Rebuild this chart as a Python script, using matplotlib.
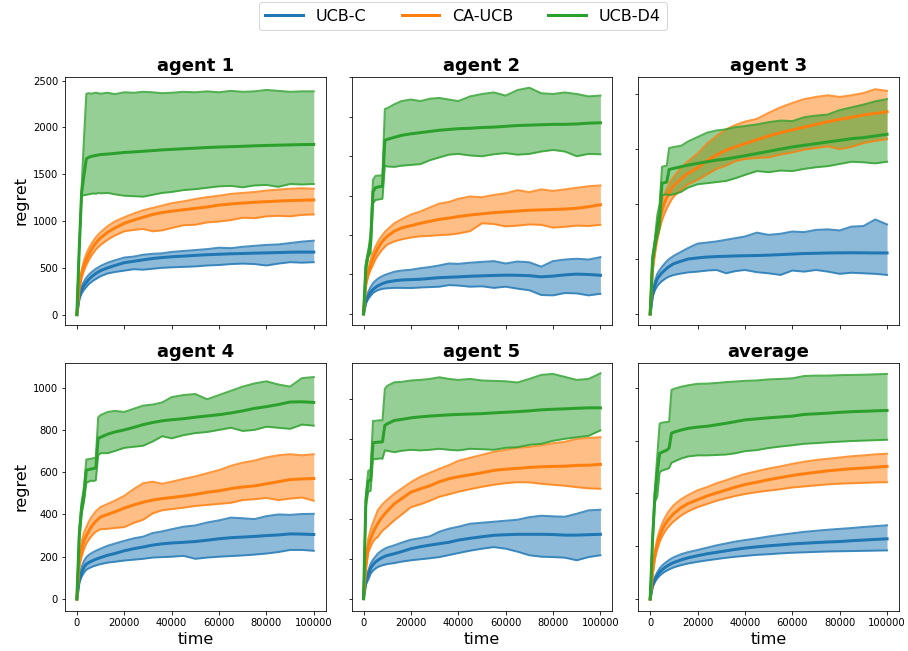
import matplotlib
matplotlib.use("Agg")
import matplotlib.pyplot as plt
import numpy as np

# time axis (steps)
t = [0, 1000, 2000, 3000, 4000, 5000, 6000, 7000, 8000, 9000, 10000, 13000, 16000,
     20000, 24000, 28000, 32000, 36000, 40000, 45000, 50000, 55000, 60000, 65000,
     70000, 75000, 80000, 85000, 90000, 95000, 100000]

algorithms = ["UCB-C", "CA-UCB", "UCB-D4"]
panel_titles = ["agent 1", "agent 2", "agent 3", "agent 4", "agent 5", "average"]

# ---------------- agent 1 ----------------
a1_ucbc_mean = [0, 190, 265, 310, 345, 375, 400, 420, 440, 455, 470, 500, 525, 555, 570, 585, 600, 610, 618, 625, 633, 640, 645, 650, 653, 657, 660, 663, 667, 668, 668]
a1_ucbc_hi = [0, 220, 305, 355, 395, 425, 450, 470, 490, 505, 520, 555, 580, 610, 620, 640, 650, 655, 670, 680, 690, 700, 715, 710, 725, 735, 745, 750, 765, 780, 790]
a1_ucbc_lo = [0, 160, 225, 265, 295, 325, 345, 365, 380, 395, 410, 440, 455, 470, 485, 480, 490, 500, 505, 510, 515, 525, 530, 540, 545, 540, 525, 545, 560, 555, 560]
a1_caucb_mean = [0, 300, 430, 520, 590, 640, 690, 730, 765, 795, 820, 880, 925, 975, 1010, 1040, 1070, 1090, 1105, 1120, 1135, 1150, 1170, 1182, 1192, 1200, 1207, 1213, 1218, 1222, 1225]
a1_caucb_hi = [0, 330, 475, 575, 650, 705, 750, 790, 825, 855, 880, 945, 995, 1040, 1080, 1115, 1140, 1165, 1190, 1210, 1235, 1255, 1270, 1290, 1300, 1310, 1325, 1335, 1345, 1350, 1345]
a1_caucb_lo = [0, 270, 390, 470, 530, 580, 625, 660, 695, 720, 745, 800, 845, 890, 905, 915, 890, 900, 925, 955, 960, 985, 995, 1010, 1035, 1030, 1050, 1055, 1050, 1065, 1070]
a1_d4_mean = [0, 700, 1300, 1490, 1665, 1680, 1690, 1695, 1700, 1705, 1710, 1715, 1722, 1732, 1738, 1745, 1752, 1760, 1765, 1772, 1778, 1785, 1790, 1794, 1798, 1803, 1807, 1810, 1813, 1816, 1818]
a1_d4_hi = [0, 700, 1360, 1880, 2360, 2365, 2360, 2365, 2370, 2365, 2360, 2370, 2355, 2375, 2370, 2380, 2375, 2365, 2370, 2380, 2375, 2385, 2375, 2390, 2380, 2385, 2400, 2390, 2380, 2385, 2385]
a1_d4_lo = [0, 700, 1270, 1275, 1280, 1285, 1290, 1295, 1290, 1300, 1295, 1300, 1285, 1270, 1265, 1260, 1280, 1300, 1310, 1330, 1340, 1355, 1370, 1375, 1360, 1380, 1385, 1365, 1395, 1390, 1395]

# ---------------- agent 2 ----------------
a2_ucbc_mean = [0, 160, 230, 275, 310, 335, 355, 370, 385, 395, 405, 420, 430, 435, 440, 450, 460, 465, 470, 478, 483, 488, 492, 490, 485, 470, 480, 495, 505, 500, 490]
a2_ucbc_hi = [0, 190, 280, 340, 390, 420, 445, 465, 480, 495, 505, 535, 550, 560, 580, 595, 615, 640, 635, 650, 660, 670, 640, 665, 655, 600, 670, 690, 700, 690, 720]
a2_ucbc_lo = [0, 130, 190, 230, 265, 285, 300, 310, 318, 322, 325, 330, 330, 328, 335, 340, 345, 365, 360, 345, 350, 330, 345, 320, 300, 240, 235, 265, 260, 235, 255]
a2_caucb_mean = [0, 390, 520, 620, 700, 770, 830, 880, 920, 955, 985, 1050, 1090, 1120, 1150, 1175, 1200, 1215, 1235, 1255, 1270, 1285, 1295, 1305, 1315, 1320, 1325, 1330, 1340, 1360, 1385]
a2_caucb_hi = [0, 420, 570, 690, 780, 850, 910, 960, 1000, 1040, 1070, 1150, 1200, 1260, 1300, 1350, 1400, 1420, 1460, 1490, 1480, 1510, 1530, 1570, 1545, 1580, 1560, 1580, 1600, 1620, 1630]
a2_caucb_lo = [0, 360, 480, 560, 620, 690, 740, 780, 820, 850, 880, 920, 945, 970, 985, 990, 1000, 1005, 1020, 1050, 1150, 1140, 1110, 1120, 1135, 1130, 1095, 1105, 1120, 1115, 1130]
a2_d4_mean = [0, 600, 760, 900, 1550, 1600, 1610, 1615, 1620, 2200, 2215, 2240, 2265, 2285, 2300, 2315, 2330, 2340, 2350, 2355, 2365, 2370, 2380, 2390, 2395, 2400, 2405, 2405, 2410, 2420, 2425]
a2_d4_hi = [0, 650, 800, 1030, 1700, 1750, 1755, 1755, 1760, 2600, 2610, 2660, 2700, 2720, 2700, 2730, 2740, 2720, 2700, 2760, 2790, 2810, 2770, 2840, 2870, 2800, 2790, 2810, 2790, 2760, 2770]
a2_d4_lo = [0, 540, 720, 771, 1400, 1445, 1450, 1455, 1460, 1880, 1870, 1865, 1880, 1890, 1900, 1950, 1985, 2020, 2030, 2010, 2000, 2025, 2040, 2020, 2030, 2060, 2080, 2060, 2000, 2030, 2025]

# ---------------- agent 3 ----------------
a3_ucbc_mean = [0, 180, 265, 320, 350, 375, 395, 415, 432, 445, 458, 480, 500, 510, 518, 522, 525, 528, 530, 532, 535, 540, 545, 550, 552, 555, 556, 557, 556, 555, 555]
a3_ucbc_hi = [0, 205, 300, 365, 400, 430, 455, 480, 500, 515, 530, 565, 600, 640, 650, 660, 675, 690, 705, 740, 720, 730, 750, 745, 765, 770, 760, 795, 800, 860, 815]
a3_ucbc_lo = [0, 150, 215, 255, 280, 300, 315, 330, 340, 348, 355, 368, 378, 385, 395, 400, 370, 390, 400, 380, 370, 355, 395, 385, 400, 385, 365, 375, 370, 365, 355]
a3_caucb_mean = [0, 420, 600, 740, 850, 940, 1010, 1060, 1100, 1140, 1170, 1230, 1280, 1330, 1395, 1445, 1490, 1520, 1550, 1585, 1620, 1650, 1675, 1700, 1725, 1750, 1770, 1790, 1810, 1825, 1840]
a3_caucb_hi = [0, 460, 660, 820, 930, 1020, 1090, 1140, 1180, 1220, 1250, 1330, 1390, 1460, 1550, 1620, 1680, 1720, 1750, 1775, 1830, 1880, 1920, 1955, 1975, 1990, 1975, 1990, 2010, 2045, 2030]
a3_caucb_lo = [0, 380, 540, 670, 770, 850, 910, 960, 1000, 1040, 1070, 1130, 1180, 1220, 1270, 1320, 1350, 1390, 1410, 1420, 1425, 1450, 1470, 1495, 1510, 1525, 1500, 1520, 1555, 1575, 1590]
a3_d4_mean = [0, 500, 640, 790, 900, 1190, 1195, 1200, 1315, 1320, 1325, 1340, 1355, 1370, 1385, 1400, 1410, 1425, 1440, 1460, 1480, 1500, 1520, 1535, 1550, 1565, 1580, 1595, 1605, 1620, 1635]
a3_d4_hi = [0, 530, 680, 900, 1000, 1340, 1345, 1350, 1510, 1515, 1520, 1530, 1570, 1610, 1650, 1670, 1680, 1700, 1710, 1725, 1745, 1760, 1755, 1790, 1805, 1815, 1855, 1880, 1905, 1935, 1955]
a3_d4_lo = [0, 470, 600, 700, 780, 1080, 1085, 1090, 1080, 1085, 1090, 1110, 1150, 1180, 1190, 1200, 1210, 1235, 1265, 1300, 1290, 1305, 1300, 1320, 1335, 1345, 1365, 1385, 1380, 1370, 1385]

# ---------------- agent 4 ----------------
a4_ucbc_mean = [0, 90, 125, 150, 165, 172, 178, 183, 188, 192, 196, 207, 215, 228, 238, 246, 255, 261, 265, 268, 272, 278, 285, 290, 293, 296, 300, 303, 308, 307, 305]
a4_ucbc_hi = [0, 105, 150, 180, 198, 208, 216, 222, 228, 233, 238, 252, 262, 275, 287, 295, 312, 320, 330, 342, 348, 362, 372, 385, 382, 378, 392, 400, 398, 402, 403]
a4_ucbc_lo = [0, 75, 105, 125, 138, 145, 150, 155, 158, 162, 165, 172, 176, 182, 186, 190, 196, 198, 200, 204, 190, 196, 200, 203, 206, 210, 215, 222, 232, 232, 228]
a4_caucb_mean = [0, 175, 235, 275, 300, 320, 340, 355, 368, 378, 388, 400, 412, 430, 445, 458, 468, 475, 480, 487, 495, 505, 512, 522, 530, 535, 545, 555, 565, 568, 570]
a4_caucb_hi = [0, 200, 270, 315, 340, 365, 385, 400, 415, 425, 435, 450, 465, 488, 520, 548, 555, 545, 555, 568, 580, 595, 610, 630, 645, 655, 670, 680, 685, 680, 685]
a4_caucb_lo = [0, 150, 200, 235, 262, 280, 295, 308, 318, 325, 330, 332, 336, 340, 360, 375, 405, 420, 425, 432, 440, 445, 450, 455, 468, 472, 478, 468, 475, 480, 465]
a4_d4_mean = [0, 300, 430, 490, 610, 612, 615, 617, 620, 760, 765, 780, 790, 800, 812, 825, 835, 843, 848, 853, 860, 866, 872, 880, 890, 902, 910, 920, 932, 933, 930]
a4_d4_hi = [0, 330, 460, 530, 660, 662, 664, 666, 668, 860, 870, 885, 890, 885, 900, 915, 920, 930, 955, 965, 970, 945, 965, 985, 1005, 1020, 1030, 1015, 1005, 1045, 1050]
a4_d4_lo = [0, 270, 400, 460, 550, 555, 560, 558, 562, 680, 690, 690, 700, 715, 720, 725, 745, 770, 760, 775, 785, 790, 800, 810, 795, 800, 815, 810, 805, 825, 820]

# ---------------- agent 5 ----------------
a5_ucbc_mean = [0, 85, 120, 152, 170, 183, 192, 200, 206, 212, 216, 225, 235, 250, 260, 268, 275, 282, 293, 302, 310, 317, 320, 322, 322, 322, 321, 318, 318, 320, 322]
a5_ucbc_hi = [0, 100, 140, 175, 195, 210, 225, 235, 243, 250, 256, 267, 280, 295, 303, 312, 335, 350, 360, 375, 380, 385, 390, 395, 408, 415, 412, 410, 425, 442, 445]
a5_ucbc_lo = [0, 70, 95, 125, 140, 150, 158, 163, 167, 170, 173, 178, 185, 192, 197, 202, 208, 218, 228, 240, 250, 258, 250, 235, 217, 210, 208, 205, 192, 208, 217]
a5_caucb_mean = [0, 170, 265, 300, 330, 355, 375, 395, 410, 425, 438, 475, 500, 533, 550, 565, 585, 600, 610, 620, 630, 642, 648, 652, 657, 660, 662, 663, 667, 668, 672]
a5_caucb_hi = [0, 195, 300, 345, 380, 410, 442, 458, 472, 484, 495, 525, 550, 583, 610, 630, 650, 668, 690, 705, 720, 735, 745, 755, 760, 768, 778, 785, 800, 805, 808]
a5_caucb_lo = [0, 145, 230, 260, 285, 300, 308, 325, 340, 350, 360, 392, 420, 458, 472, 490, 510, 522, 535, 548, 560, 570, 578, 583, 582, 575, 570, 565, 558, 552, 550]
a5_d4_mean = [0, 490, 590, 592, 780, 782, 783, 784, 785, 867, 875, 892, 897, 905, 910, 914, 917, 920, 922, 924, 926, 930, 933, 936, 940, 945, 948, 950, 953, 955, 955]
a5_d4_hi = [0, 520, 640, 645, 890, 890, 892, 893, 892, 1050, 1065, 1083, 1085, 1092, 1095, 1100, 1108, 1100, 1095, 1100, 1092, 1090, 1088, 1082, 1100, 1120, 1125, 1110, 1095, 1100, 1128]
a5_d4_lo = [0, 460, 535, 540, 700, 698, 700, 702, 700, 742, 740, 733, 740, 745, 742, 745, 750, 745, 742, 750, 748, 745, 755, 758, 770, 775, 790, 800, 808, 815, 842]

# ---------------- average over agents ----------------
avg_ucbc_mean = [0, 65, 92, 112, 127, 138, 147, 155, 162, 168, 173, 185, 195, 205, 214, 221, 228, 235, 241, 247, 252, 256, 261, 264, 267, 270, 272, 276, 279, 282, 285]
avg_ucbc_hi = [0, 75, 105, 127, 145, 158, 168, 177, 185, 192, 198, 212, 222, 232, 243, 254, 263, 272, 279, 287, 296, 304, 311, 318, 323, 328, 332, 336, 341, 345, 349]
avg_ucbc_lo = [0, 55, 80, 98, 110, 120, 128, 134, 140, 145, 150, 160, 168, 176, 183, 189, 195, 200, 204, 209, 212, 216, 219, 221, 223, 225, 226, 227, 228, 229, 230]
avg_caucb_mean = [0, 125, 210, 260, 298, 325, 348, 365, 380, 393, 405, 432, 452, 470, 488, 502, 516, 530, 542, 553, 565, 575, 585, 593, 600, 607, 612, 617, 620, 624, 628]
avg_caucb_hi = [0, 140, 230, 285, 325, 355, 380, 400, 418, 432, 445, 472, 492, 515, 530, 548, 562, 578, 592, 605, 618, 628, 640, 650, 658, 664, 670, 676, 680, 685, 688]
avg_caucb_lo = [0, 110, 190, 235, 270, 295, 315, 332, 345, 358, 368, 395, 415, 435, 450, 465, 477, 488, 497, 506, 513, 520, 528, 533, 538, 543, 546, 548, 550, 552, 553]
avg_d4_mean = [0, 280, 490, 600, 690, 695, 700, 705, 715, 785, 790, 800, 808, 814, 818, 825, 832, 840, 848, 853, 858, 862, 866, 874, 877, 880, 884, 887, 889, 891, 893]
avg_d4_hi = [0, 300, 520, 680, 830, 835, 837, 838, 840, 990, 995, 1005, 1012, 1019, 1020, 1023, 1027, 1030, 1033, 1035, 1040, 1042, 1045, 1056, 1058, 1058, 1060, 1061, 1062, 1064, 1066]
avg_d4_lo = [0, 260, 460, 485, 600, 608, 612, 615, 620, 645, 650, 665, 675, 680, 680, 682, 684, 690, 700, 705, 715, 722, 728, 735, 738, 742, 745, 748, 750, 752, 754]

panels = [
    [(a1_ucbc_mean, a1_ucbc_lo, a1_ucbc_hi), (a1_caucb_mean, a1_caucb_lo, a1_caucb_hi), (a1_d4_mean, a1_d4_lo, a1_d4_hi)],
    [(a2_ucbc_mean, a2_ucbc_lo, a2_ucbc_hi), (a2_caucb_mean, a2_caucb_lo, a2_caucb_hi), (a2_d4_mean, a2_d4_lo, a2_d4_hi)],
    [(a3_ucbc_mean, a3_ucbc_lo, a3_ucbc_hi), (a3_caucb_mean, a3_caucb_lo, a3_caucb_hi), (a3_d4_mean, a3_d4_lo, a3_d4_hi)],
    [(a4_ucbc_mean, a4_ucbc_lo, a4_ucbc_hi), (a4_caucb_mean, a4_caucb_lo, a4_caucb_hi), (a4_d4_mean, a4_d4_lo, a4_d4_hi)],
    [(a5_ucbc_mean, a5_ucbc_lo, a5_ucbc_hi), (a5_caucb_mean, a5_caucb_lo, a5_caucb_hi), (a5_d4_mean, a5_d4_lo, a5_d4_hi)],
    [(avg_ucbc_mean, avg_ucbc_lo, avg_ucbc_hi), (avg_caucb_mean, avg_caucb_lo, avg_caucb_hi), (avg_d4_mean, avg_d4_lo, avg_d4_hi)],
]

# per-panel y range and tick spacing
y_limits = [(-110, 2540), (-140, 3008), (-100, 2158), (-57, 1117), (-62, 1180), (-57, 1118)]
y_steps = [500, 500, 500, 200, 200, 250]
y_top_tick = [2500, 3000, 2000, 1000, 1000, 1000]

colors = ["#1f77b4", "#ff7f0e", "#2ca02c"]

fig, axes = plt.subplots(2, 3, figsize=(908 / 72, 651 / 72), dpi=72, sharex=True)
fig.subplots_adjust(left=0.0716, right=0.990, top=0.882, bottom=0.0614,
                    wspace=0.10, hspace=0.153)

handles = []
for k, ax in enumerate(axes.flat):
    for (mean, lo, hi), color, name in zip(panels[k], colors, algorithms):
        ax.fill_between(t, lo, hi, color=color, alpha=0.5, linewidth=0)
        ax.plot(t, lo, color=color, lw=2, alpha=0.8)
        ax.plot(t, hi, color=color, lw=2, alpha=0.8)
        line, = ax.plot(t, mean, color=color, lw=3, label=name)
        if k == 0:
            handles.append(line)
    ax.set_title(panel_titles[k], fontsize=18, fontweight="bold")
    ax.set_xlim(-5000, 105000)
    ax.set_ylim(*y_limits[k])
    ax.set_yticks(np.arange(0, y_top_tick[k] + 1, y_steps[k]))
    ax.set_xticks([0, 20000, 40000, 60000, 80000, 100000])
    ax.tick_params(labelsize=10)
    if k % 3 != 0:
        ax.tick_params(labelleft=False)
    else:
        ax.set_ylabel("regret", fontsize=16)
    if k >= 3:
        ax.set_xlabel("time", fontsize=16)

fig.legend(handles, algorithms, loc="upper center", ncol=3, fontsize=16,
           bbox_to_anchor=(0.51, 1.0), borderaxespad=0.15, handlelength=2.35,
           columnspacing=2.2)

fig.savefig("out.png", dpi=72)
